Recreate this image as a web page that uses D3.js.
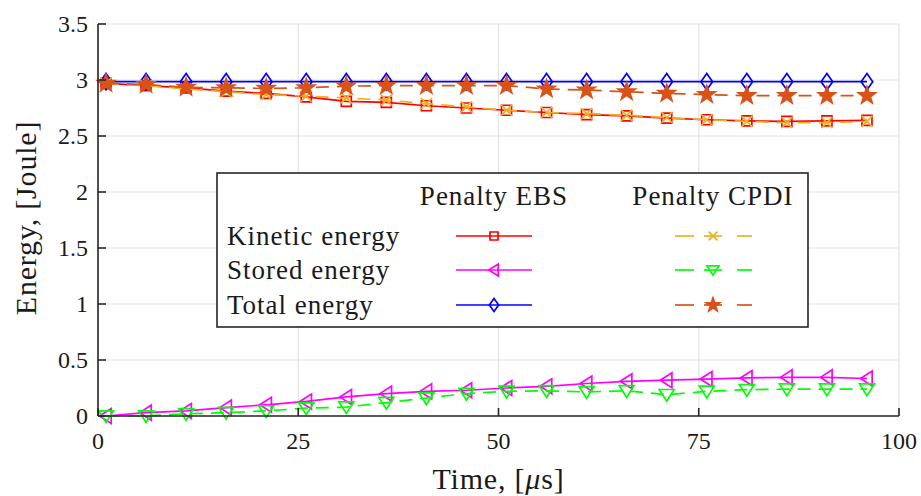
<!DOCTYPE html>
<html>
<head>
<meta charset="utf-8">
<script src="https://cdn.jsdelivr.net/npm/d3@7"></script>
<style>
  body { margin: 0; background: #fff; }
  svg text { font-family: "Liberation Serif", "Times New Roman", serif; fill: #1a1a1a; }
</style>
</head>
<body>
<svg id="chart" width="921" height="496"></svg>
<script>
(function () {
  "use strict";

  // time in microseconds
  var time = [1, 6, 11, 16, 21, 26, 31, 36, 41, 46, 51, 56, 61, 66, 71, 76, 81, 86, 91, 96];

  // Penalty EBS
  var kineticEBS = [2.97, 2.95, 2.93, 2.90, 2.88, 2.85, 2.81, 2.80, 2.77, 2.75, 2.73, 2.71, 2.69, 2.68, 2.66, 2.645, 2.635, 2.63, 2.635, 2.64];
  var storedEBS  = [0.00, 0.03, 0.045, 0.075, 0.10, 0.13, 0.17, 0.20, 0.22, 0.23, 0.25, 0.265, 0.29, 0.31, 0.32, 0.33, 0.34, 0.345, 0.345, 0.335];
  var totalEBS   = [2.985, 2.985, 2.985, 2.985, 2.985, 2.985, 2.985, 2.985, 2.985, 2.985, 2.985, 2.985, 2.985, 2.985, 2.985, 2.985, 2.985, 2.985, 2.985, 2.985];

  // Penalty CPDI
  var kineticCPDI = [2.97, 2.95, 2.92, 2.895, 2.87, 2.855, 2.84, 2.82, 2.79, 2.76, 2.73, 2.71, 2.70, 2.685, 2.665, 2.645, 2.63, 2.62, 2.62, 2.63];
  var storedCPDI  = [0.00, 0.00, 0.02, 0.03, 0.045, 0.07, 0.08, 0.12, 0.16, 0.20, 0.22, 0.225, 0.215, 0.225, 0.19, 0.22, 0.235, 0.24, 0.24, 0.24];
  var totalCPDI   = [2.97, 2.96, 2.935, 2.93, 2.925, 2.93, 2.945, 2.95, 2.95, 2.95, 2.95, 2.92, 2.91, 2.895, 2.88, 2.87, 2.86, 2.86, 2.86, 2.86];

  var xTicks = [0, 25, 50, 75, 100];
  var yTicks = [0, 0.5, 1, 1.5, 2, 2.5, 3, 3.5];
  var rowLabels = ["Kinetic energy", "Stored energy", "Total energy"];
  var colLabels = ["Penalty EBS", "Penalty CPDI"];

  var margin = {top: 24, right: 22, bottom: 80, left: 98};
  var width = 921 - margin.left - margin.right,
      height = 496 - margin.top - margin.bottom;

  var svg = d3.select("#chart");
  var g = svg.append("g").attr("transform", "translate(" + margin.left + "," + margin.top + ")");

  var x = d3.scaleLinear().domain([0, 100]).range([0, width]);
  var y = d3.scaleLinear().domain([0, 3.5]).range([height, 0]);

  // grid
  g.append("g").selectAll("line").data(xTicks).enter().append("line")
    .attr("x1", function(d){ return x(d); }).attr("x2", function(d){ return x(d); })
    .attr("y1", 0).attr("y2", height)
    .attr("stroke", "#e3e3e3").attr("stroke-width", 1.2);
  g.append("g").selectAll("line").data(yTicks).enter().append("line")
    .attr("y1", function(d){ return y(d); }).attr("y2", function(d){ return y(d); })
    .attr("x1", 0).attr("x2", width)
    .attr("stroke", "#e3e3e3").attr("stroke-width", 1.2);

  // markers
  function sq(s) { return "M" + -s + "," + -s + "H" + s + "V" + s + "H" + -s + "Z"; }
  function triLeft(s) { return "M" + -s + ",0L" + s*0.8 + "," + -s*1.15 + "L" + s*0.8 + "," + s*1.15 + "Z"; }
  function triDown(s) { return "M" + -s*1.15 + "," + -s*0.8 + "L" + s*1.15 + "," + -s*0.8 + "L0," + s + "Z"; }
  function diamond(s) { return "M0," + -s*1.4 + "L" + s + ",0L0," + s*1.4 + "L" + -s + ",0Z"; }
  function cross(s) { return "M" + -s + "," + -s + "L" + s + "," + s + "M" + -s + "," + s + "L" + s + "," + -s; }
  function star(s) {
    var p = [];
    for (var i = 0; i < 10; i++) {
      var r = i % 2 === 0 ? s : s * 0.4;
      var a = -Math.PI / 2 + i * Math.PI / 5;
      p.push([r * Math.cos(a), r * Math.sin(a)]);
    }
    return "M" + p.join("L") + "Z";
  }

  var series = [
    {values: kineticEBS,  color: "#ff0000", dash: null,   marker: sq,      size: 5,   fill: "none"},
    {values: storedEBS,   color: "#ff00ff", dash: null,   marker: triLeft, size: 6.5, fill: "none"},
    {values: totalEBS,    color: "#0000ff", dash: null,   marker: diamond, size: 5.8, fill: "none"},
    {values: kineticCPDI, color: "#EDB120", dash: "13,8", marker: cross,   size: 5.5, fill: "none"},
    {values: storedCPDI,  color: "#00ff00", dash: "13,8", marker: triDown, size: 6.5, fill: "none"},
    {values: totalCPDI,   color: "#D95319", dash: "13,8", marker: star,    size: 9,   fill: "#D95319"}
  ];

  var line = d3.line()
    .x(function(d, i){ return x(time[i]); })
    .y(function(d){ return y(d); });

  series.forEach(function(s) {
    g.append("path").datum(s.values)
      .attr("d", line)
      .attr("fill", "none")
      .attr("stroke", s.color)
      .attr("stroke-width", 1.7)
      .attr("stroke-dasharray", s.dash);
    g.append("g").selectAll("path").data(s.values).enter().append("path")
      .attr("transform", function(d, i){ return "translate(" + x(time[i]) + "," + y(d) + ")"; })
      .attr("d", s.marker(s.size))
      .attr("fill", s.fill)
      .attr("stroke", s.color)
      .attr("stroke-width", 1.7);
  });

  // axes (left and bottom, ticks inward)
  var axisColor = "#262626";
  g.append("line").attr("x1", 0).attr("x2", 0).attr("y1", 0).attr("y2", height)
    .attr("stroke", axisColor).attr("stroke-width", 1.6);
  g.append("line").attr("x1", 0).attr("x2", width).attr("y1", height).attr("y2", height)
    .attr("stroke", axisColor).attr("stroke-width", 1.6);

  g.append("g").selectAll("line").data(yTicks).enter().append("line")
    .attr("x1", 0).attr("x2", 8)
    .attr("y1", function(d){ return y(d); }).attr("y2", function(d){ return y(d); })
    .attr("stroke", axisColor).attr("stroke-width", 1.6);
  g.append("g").selectAll("line").data(xTicks).enter().append("line")
    .attr("y1", height).attr("y2", height - 8)
    .attr("x1", function(d){ return x(d); }).attr("x2", function(d){ return x(d); })
    .attr("stroke", axisColor).attr("stroke-width", 1.6);

  g.append("g").selectAll("text").data(yTicks).enter().append("text")
    .attr("x", -10).attr("y", function(d){ return y(d); })
    .attr("dy", "0.34em").attr("text-anchor", "end")
    .style("font-size", "24px")
    .text(function(d){ return d3.format("")(d); });
  g.append("g").selectAll("text").data(xTicks).enter().append("text")
    .attr("x", function(d){ return x(d); }).attr("y", height + 33)
    .attr("text-anchor", "middle")
    .style("font-size", "24px")
    .text(function(d){ return d; });

  // axis labels
  svg.append("text")
    .attr("transform", "translate(36," + (margin.top + height / 2 - 2) + ") rotate(-90)")
    .attr("text-anchor", "middle")
    .style("font-size", "30px").style("letter-spacing", "0.8px")
    .text("Energy, [Joule]");
  var xl = svg.append("text")
    .attr("x", margin.left + width / 2).attr("y", 489)
    .attr("text-anchor", "middle")
    .style("font-size", "30px").style("letter-spacing", "0.8px");
  xl.append("tspan").text("Time, [");
  xl.append("tspan").style("font-style", "italic").text("\u03bc");
  xl.append("tspan").text("s]");

  // legend
  var lg = svg.append("g");
  lg.append("rect").attr("x", 217).attr("y", 173).attr("width", 591).attr("height", 154)
    .attr("fill", "#fff").attr("stroke", axisColor).attr("stroke-width", 1.6);
  var colX = [494, 713];
  var rowY = [236, 270, 305];
  lg.selectAll("text.head").data(colLabels).enter().append("text")
    .attr("class", "head")
    .attr("x", function(d, i){ return colX[i]; }).attr("y", 205)
    .attr("text-anchor", "middle")
    .style("font-size", "27px").style("letter-spacing", "1px")
    .text(function(d){ return d; });
  lg.selectAll("text.row").data(rowLabels).enter().append("text")
    .attr("class", "row")
    .attr("x", 227).attr("y", function(d, i){ return rowY[i] + 9; })
    .style("font-size", "27px").style("letter-spacing", "1px")
    .text(function(d){ return d; });

  series.forEach(function(s, k) {
    var col = Math.floor(k / 3), row = k % 3;
    var cx = colX[col], cy = rowY[row];
    var ll = lg.append("g").attr("transform", "translate(" + cx + "," + cy + ")");
    if (s.dash) {
      ll.append("line").attr("x1", -38).attr("x2", -19).attr("y1", 0).attr("y2", 0)
        .attr("stroke", s.color).attr("stroke-width", 1.7);
      ll.append("line").attr("x1", -9).attr("x2", 9).attr("y1", 0).attr("y2", 0)
        .attr("stroke", s.color).attr("stroke-width", 1.7);
      ll.append("line").attr("x1", 24).attr("x2", 39).attr("y1", 0).attr("y2", 0)
        .attr("stroke", s.color).attr("stroke-width", 1.7);
    } else {
      ll.append("line").attr("x1", -38).attr("x2", 38).attr("y1", 0).attr("y2", 0)
        .attr("stroke", s.color).attr("stroke-width", 1.7);
    }
    ll.append("path").attr("d", s.marker(s.size * 0.8))
      .attr("fill", s.fill).attr("stroke", s.color).attr("stroke-width", 1.7);
  });
}());
</script>
</body>
</html>
